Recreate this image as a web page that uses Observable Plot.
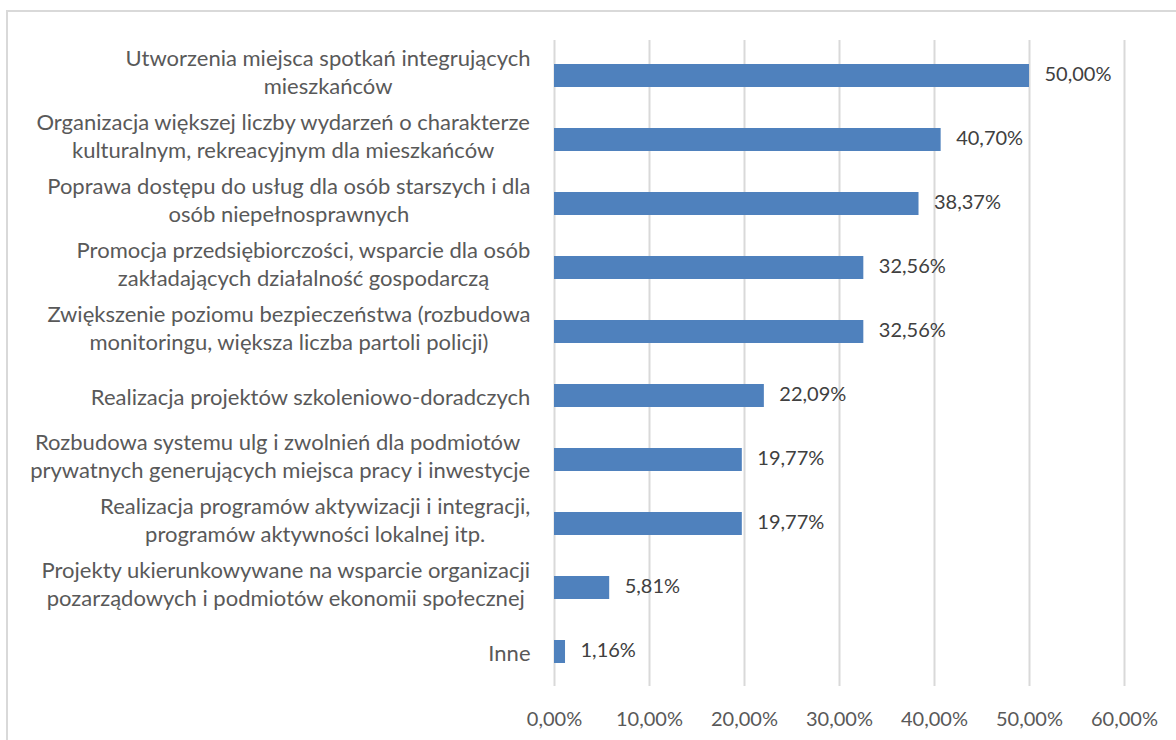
<!DOCTYPE html>
<html>
<head>
<meta charset="utf-8">
<script src="https://cdn.jsdelivr.net/npm/d3@7"></script>
<script src="https://cdn.jsdelivr.net/npm/@observablehq/plot@0.6"></script>
<style>
  html, body { margin: 0; padding: 0; background: #fff; }
  #wrap { position: relative; width: 1176px; height: 740px; overflow: hidden; }
  #frame { position: absolute; left: 6px; top: 10px; width: 1200px; height: 800px;
           border-left: 2px solid #d9d9d9; border-top: 2px solid #d9d9d9; box-sizing: border-box; }
  #chart { position: absolute; left: 0; top: 0; }
</style>
</head>
<body>
<div id="wrap"><div id="frame"></div><div id="chart"></div></div>
<script>
const categories = [
  "Utworzenia miejsca spotkań integrujących\nmieszkańców",
  "Organizacja większej liczby wydarzeń o charakterze\nkulturalnym, rekreacyjnym dla mieszkańców",
  "Poprawa dostępu do usług dla osób starszych i dla\nosób niepełnosprawnych",
  "Promocja przedsiębiorczości, wsparcie dla osób\nzakładających działalność gospodarczą",
  "Zwiększenie poziomu bezpieczeństwa (rozbudowa\nmonitoringu, większa liczba partoli policji)",
  "Realizacja projektów szkoleniowo-doradczych",
  "Rozbudowa systemu ulg i zwolnień dla podmiotów \nprywatnych generujących miejsca pracy i inwestycje",
  "Realizacja programów aktywizacji i integracji,\nprogramów aktywności lokalnej itp.",
  "Projekty ukierunkowywane na wsparcie organizacji\npozarządowych i podmiotów ekonomii społecznej",
  "Inne"
];
const values = [50.00, 40.70, 38.37, 32.56, 32.56, 22.09, 19.77, 19.77, 5.81, 1.16];
const xTicks = [0, 10, 20, 30, 40, 50, 60];

const data = categories.map((c, i) => ({category: c, value: values[i]}));
const fmt = v => v.toFixed(2).replace(".", ",") + "%";

const FONT = "Lato";
const FS = 20;     // numbers
const LFS = 22;    // category labels
const ctx = document.createElement("canvas").getContext("2d");
ctx.font = `${LFS}px ${FONT}`;
const blockWidth = c => Math.max(...c.split("\n").map(l => ctx.measureText(l).width));

const labelMarks = data.map(d =>
  Plot.text([d], {
    x: () => 0, y: "category", text: "category",
    textAnchor: "middle", lineHeight: 1.27,
    dx: -(24 + blockWidth(d.category) / 2),
    dy: d.category.includes("\n") ? -5 : 0,
    fill: "#595959", fontSize: LFS
  })
);

const chart = Plot.plot({
  width: 1176,
  height: 740,
  marginLeft: 554,
  marginRight: 52,
  marginTop: 40,
  marginBottom: 54,
  style: {fontFamily: FONT, fontSize: FS + "px", color: "#595959", background: "transparent"},
  x: {domain: [0, 60], ticks: xTicks, tickFormat: fmt, label: null},
  y: {domain: categories, paddingInner: 0.644, paddingOuter: 0.322, label: null, axis: null},
  marks: [
    Plot.gridX(xTicks, {stroke: "#d9d9d9", strokeOpacity: 1, strokeWidth: 2}),
    Plot.barX(data, {x: "value", y: "category", fill: "#4f81bd"}),
    Plot.text(data, {x: "value", y: "category", text: d => fmt(d.value), textAnchor: "start", dx: 15, dy: -1, fill: "#404040", fontSize: FS}),
    ...labelMarks,
    Plot.axisX(xTicks, {tickSize: 0, tickPadding: 25, tickFormat: fmt, fontSize: FS, fill: "#595959", label: null})
  ]
});
document.getElementById("chart").appendChild(chart);
</script>
</body>
</html>
